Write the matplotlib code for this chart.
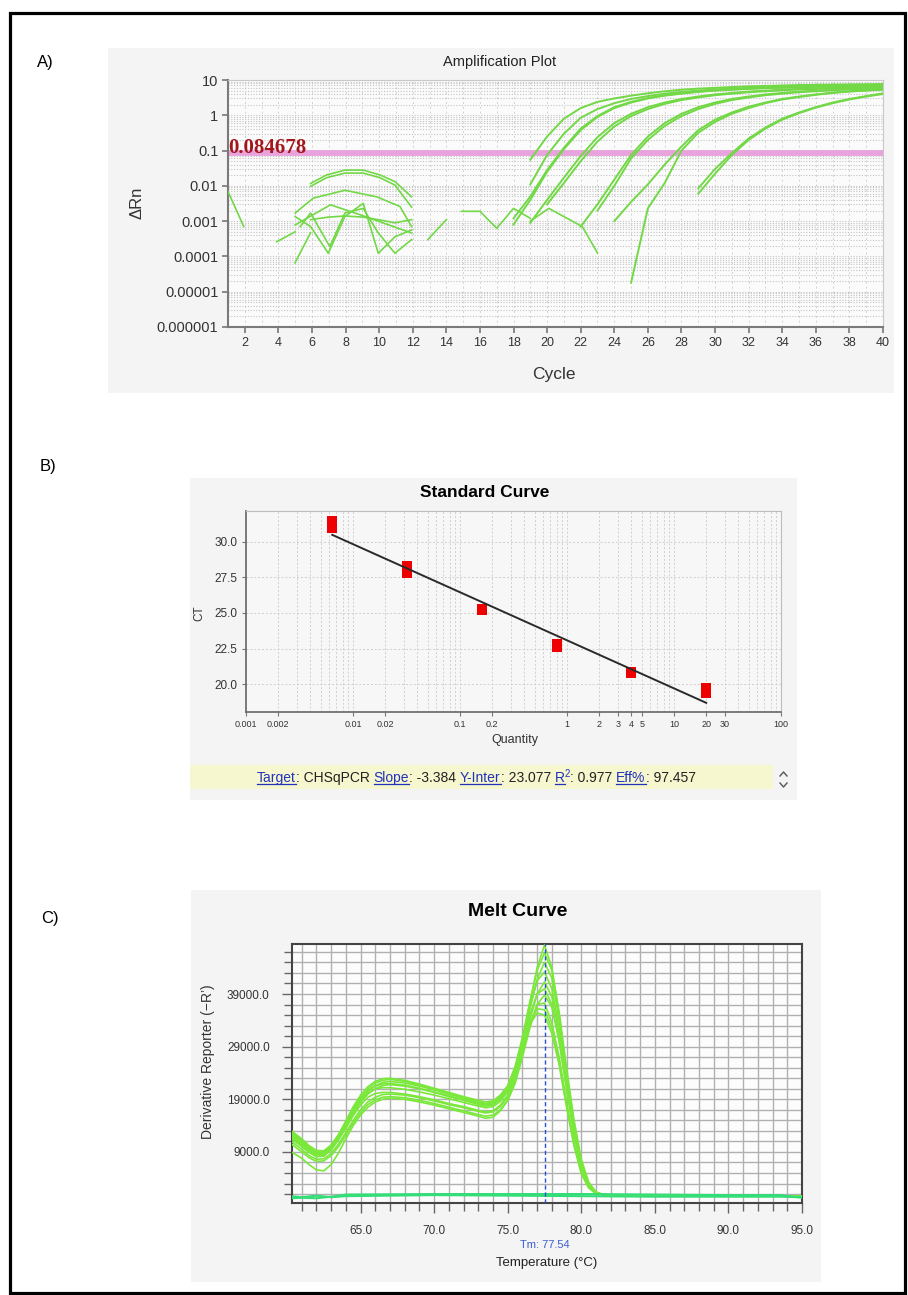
import numpy as np
import matplotlib
matplotlib.use("Agg")
import matplotlib.pyplot as plt
from matplotlib.patches import Rectangle
from matplotlib.lines import Line2D
from matplotlib.transforms import IdentityTransform
from matplotlib.ticker import FixedLocator, NullFormatter, MultipleLocator, LogLocator
from matplotlib import font_manager

# ---------------- A) amplification plot ----------------
threshold = 0.084678
amp_cycle_ticks = list(range(2, 41, 2))
amp_ytick_vals = [1e-6, 1e-5, 1e-4, 1e-3, 1e-2, 1e-1, 1, 10]
amp_ytick_labels = ["0.000001", "0.00001", "0.0001", "0.001", "0.01", "0.1", "1", "10"]

# amplified wells: first plotted cycle, then one value per cycle up to 40
amp_1a = [0.055, 0.25, 0.8, 1.6, 2.4, 3.0, 3.6, 4.2, 4.8, 5.3, 5.7, 6.0, 6.3, 6.6, 6.8, 7.0, 7.2, 7.3, 7.4, 7.5, 7.6, 7.7]
amp_1b = [0.011, 0.075, 0.3, 0.85, 1.5, 2.2, 2.9, 3.5, 4.1, 4.6, 5.0, 5.4, 5.7, 6.0, 6.2, 6.4, 6.6, 6.8, 6.9, 7.0, 7.1, 7.2]
amp_2a = [0.0008, 0.004, 0.025, 0.11, 0.38, 0.9, 1.6, 2.3, 3.0, 3.6, 4.1, 4.6, 5.0, 5.3, 5.6, 5.9, 6.1, 6.3, 6.5, 6.6, 6.7, 6.8, 6.9]
amp_2b = [0.0012, 0.005, 0.028, 0.12, 0.42, 0.95, 1.7, 2.4, 3.1, 3.7, 4.2, 4.7, 5.1, 5.4, 5.7, 5.9, 6.1, 6.3, 6.4, 6.5, 6.6, 6.7, 6.8]
amp_3a = [0.0009, 0.004, 0.017, 0.07, 0.24, 0.6, 1.1, 1.7, 2.3, 2.9, 3.4, 3.9, 4.3, 4.7, 5.0, 5.3, 5.6, 5.8, 6.0, 6.2, 6.3, 6.4]
amp_3b = [0.003, 0.012, 0.05, 0.18, 0.48, 0.95, 1.5, 2.1, 2.7, 3.2, 3.7, 4.1, 4.5, 4.8, 5.1, 5.4, 5.6, 5.8, 6.0, 6.1, 6.2]
amp_4a = [0.0007, 0.003, 0.015, 0.075, 0.25, 0.6, 1.1, 1.7, 2.3, 2.9, 3.4, 3.9, 4.3, 4.7, 5.0, 5.3, 5.6, 5.8, 6.0]
amp_4b = [0.002, 0.01, 0.06, 0.2, 0.5, 0.95, 1.5, 2.1, 2.7, 3.2, 3.7, 4.1, 4.5, 4.8, 5.1, 5.4, 5.6, 5.8]
amp_5a = [1.8e-5, 0.0023, 0.012, 0.1, 0.32, 0.65, 1.1, 1.6, 2.2, 2.8, 3.3, 3.8, 4.3, 4.7, 5.0, 5.3]
amp_5b = [0.001, 0.0035, 0.011, 0.04, 0.13, 0.38, 0.75, 1.2, 1.75, 2.3, 2.9, 3.4, 3.9, 4.4, 4.8, 5.1, 5.4]
amp_6a = [0.0085, 0.03, 0.085, 0.22, 0.45, 0.8, 1.2, 1.7, 2.3, 2.9, 3.5, 4.2]
amp_6b = [0.006, 0.022, 0.075, 0.2, 0.42, 0.75, 1.15, 1.65, 2.2, 2.8, 3.4, 4.0]

# baseline noise pieces (only the positive parts show on a log axis)
nz1_x, nz1_y = [1.0, 1.94], [0.0069, 0.0007]
nz2_x, nz2_y = [3.9, 5.0], [0.00026, 0.0005]
nz3_x, nz3_y = [4.99, 5.92], [6.6e-5, 0.00047]
arc1_x = [5.92, 6.87, 7.96, 9.05, 10.05, 10.94, 11.93]
arc1_y = [0.0117, 0.0204, 0.028, 0.028, 0.0204, 0.0132, 0.0049]
arc2_y = [0.0097, 0.017, 0.023, 0.023, 0.017, 0.0105, 0.0025]
arc3_x = [5.0, 6.08, 7.96, 9.85, 11.24, 11.93]
arc3_y = [0.0017, 0.0045, 0.0075, 0.0049, 0.0026, 0.0007]
arc4_x, arc4_y = [5.0, 7.1, 8.9, 11.93], [0.00078, 0.0029, 0.0015, 0.00046]
zig1_x = [5.0, 5.92, 6.97, 7.96, 9.05, 9.95, 10.94, 11.93]
zig1_y = [0.00135, 0.0007, 0.000123, 0.00135, 0.0032, 0.000123, 0.00036, 0.00056]
zig2_x = [5.3, 5.92, 7.06, 7.96, 9.05, 9.95, 10.94, 11.93]
zig2_y = [0.0007, 0.0017, 0.00019, 0.0017, 0.0023, 0.00046, 0.000123, 0.0003]
flat_x = [5.92, 6.97, 7.96, 9.05, 9.95, 10.94, 11.93]
flat_y = [0.0011, 0.0013, 0.0014, 0.0013, 0.0011, 0.0009, 0.0011]
nz4_x, nz4_y = [12.9, 14.0], [0.0003, 0.0011]
nz5_x, nz5_y = [14.9, 16.0, 17.0, 18.0, 19.0], [0.0019, 0.0019, 0.00063, 0.0023, 0.0012]
nz6_x, nz6_y = [19.0, 20.1, 22.1, 23.0], [0.001, 0.0023, 0.0007, 0.000125]

# ---------------- B) standard curve ----------------
sc_qty = [0.0064, 0.0064, 0.032, 0.032, 0.16, 0.16, 0.8, 0.8, 4, 4, 20, 20]
sc_ct = [31.0, 31.5, 27.8, 28.3, 25.2, 25.3, 22.6, 22.85, 20.75, 20.85, 19.35, 19.75]
sc_slope = -3.384
sc_intercept = 23.077
sc_r2 = 0.977
sc_eff = 97.457
sc_xticks = [0.001, 0.002, 0.01, 0.02, 0.1, 0.2, 1, 2, 3, 4, 5, 10, 20, 30, 100]
sc_xlabels = ["0.001", "0.002", "0.01", "0.02", "0.1", "0.2", "1", "2", "3", "4", "5", "10", "20", "30", "100"]
sc_yticks = [20.0, 22.5, 25.0, 27.5, 30.0]

# ---------------- C) melt curve ----------------
melt_temp = [60.3, 61.0, 61.5, 62.0, 62.5, 63.0, 63.5, 64.0, 64.5, 65.0, 65.5, 66.0, 66.5, 67.0,
             68.0, 69.0, 70.0, 71.0, 72.0, 73.0, 73.5, 74.0, 74.5, 75.0, 75.5, 76.0, 76.5, 77.0,
             77.5, 78.0, 78.5, 79.0, 79.5, 80.0, 80.5, 81.0, 81.5, 82.0, 83.0, 85.0, 90.0, 95.0]
# derivative reporter, thousands
melt_1 = [12.0, 10.5, 9.3, 8.5, 8.6, 9.8, 11.8, 14.2, 16.8, 19.0, 20.6, 21.6, 22.2, 22.4, 22.1, 21.5, 20.8, 20.0, 19.2, 18.4, 18.1, 18.3, 19.3, 21.0, 24.5, 30.0, 37.0, 44.0, 48.3, 44.0, 35.0, 24.0, 14.5, 7.0, 3.0, 1.3, 0.9, 0.8, 0.7, 0.6, 0.6, 0.6]
melt_2 = [12.8, 11.2, 9.9, 9.0, 9.0, 10.2, 12.3, 14.9, 17.6, 19.8, 21.4, 22.4, 22.9, 23.0, 22.6, 21.9, 21.1, 20.3, 19.5, 18.8, 18.5, 18.7, 19.8, 21.6, 25.2, 30.8, 37.5, 43.5, 46.8, 43.5, 35.5, 25.0, 15.2, 7.6, 3.3, 1.4, 0.9, 0.8, 0.7, 0.7, 0.6, 0.6]
melt_3 = [11.5, 10.0, 8.9, 8.1, 8.2, 9.4, 11.4, 13.8, 16.3, 18.4, 20.0, 21.0, 21.6, 21.8, 21.5, 21.0, 20.3, 19.5, 18.8, 18.0, 17.7, 17.9, 19.0, 20.8, 24.3, 29.5, 36.0, 41.8, 45.0, 42.0, 34.0, 23.5, 14.0, 6.8, 2.9, 1.3, 0.9, 0.8, 0.7, 0.6, 0.6, 0.6]
melt_4 = [12.5, 11.0, 9.7, 8.8, 8.9, 10.1, 12.1, 14.6, 17.2, 19.4, 21.0, 22.1, 22.6, 22.8, 22.4, 21.7, 20.9, 20.1, 19.3, 18.5, 18.2, 18.5, 19.6, 21.5, 25.0, 30.2, 36.5, 41.5, 43.2, 40.0, 32.5, 22.5, 13.5, 6.5, 2.8, 1.2, 0.9, 0.8, 0.7, 0.6, 0.6, 0.6]
melt_5 = [11.0, 9.5, 8.3, 7.6, 7.7, 8.7, 10.5, 12.7, 15.0, 17.0, 18.5, 19.4, 19.9, 20.0, 19.8, 19.3, 18.7, 18.0, 17.4, 16.7, 16.4, 16.6, 17.6, 19.4, 22.8, 28.0, 34.0, 39.0, 41.3, 38.5, 31.5, 22.0, 13.2, 6.3, 2.7, 1.2, 0.9, 0.8, 0.7, 0.6, 0.6, 0.6]
melt_6 = [10.5, 9.0, 7.9, 7.2, 7.3, 8.3, 10.0, 12.2, 14.5, 16.5, 18.0, 18.9, 19.4, 19.5, 19.3, 18.8, 18.2, 17.5, 16.8, 16.1, 15.8, 16.0, 17.0, 18.8, 22.0, 27.0, 32.5, 37.0, 38.8, 36.5, 30.0, 21.0, 12.5, 6.0, 2.6, 1.2, 0.9, 0.8, 0.7, 0.6, 0.6, 0.6]
melt_7 = [9.0, 7.8, 6.6, 5.6, 5.4, 6.6, 8.8, 11.5, 14.0, 16.0, 17.5, 18.5, 19.0, 19.2, 19.0, 18.5, 17.9, 17.2, 16.5, 15.8, 15.4, 15.6, 16.8, 18.8, 22.3, 27.5, 33.0, 37.0, 37.3, 33.5, 27.0, 18.5, 10.8, 5.2, 2.3, 1.1, 0.9, 0.8, 0.7, 0.6, 0.6, 0.6]
melt_8 = [11.8, 10.2, 9.0, 8.2, 8.3, 9.4, 11.3, 13.5, 15.9, 17.9, 19.4, 20.1, 20.3, 20.3, 20.0, 19.5, 18.9, 18.2, 17.6, 16.9, 16.6, 16.8, 17.9, 19.8, 23.2, 28.3, 33.5, 36.2, 36.0, 32.5, 26.0, 18.0, 10.5, 5.0, 2.2, 1.1, 0.9, 0.8, 0.7, 0.6, 0.6, 0.6]
melt_9 = [12.2, 10.7, 9.5, 8.7, 8.7, 9.9, 11.9, 14.3, 16.8, 18.8, 20.2, 21.0, 21.2, 21.2, 20.9, 20.4, 19.8, 19.1, 18.4, 17.7, 17.4, 17.6, 18.6, 20.4, 23.6, 28.5, 33.2, 35.4, 35.0, 31.5, 25.5, 17.5, 10.2, 4.9, 2.2, 1.1, 0.9, 0.8, 0.7, 0.6, 0.6, 0.6]
melt_10 = [13.0, 11.5, 10.2, 9.3, 9.2, 10.3, 12.2, 14.6, 17.0, 19.0, 20.6, 21.5, 21.9, 22.0, 21.7, 21.1, 20.4, 19.7, 18.9, 18.2, 17.9, 18.1, 19.1, 21.0, 24.3, 29.4, 35.0, 39.0, 40.0, 37.0, 30.0, 21.0, 12.5, 6.0, 2.6, 1.2, 0.9, 0.8, 0.7, 0.6, 0.6, 0.6]
ntc_temp = [60.3, 61.0, 62.0, 63.0, 64.0, 70.0, 75.0, 80.0, 85.0, 90.0, 93.5, 95.0]
ntc_1 = [0.2, 0.3, 0.2, 0.5, 0.9, 1.0, 1.0, 1.0, 0.9, 0.8, 0.8, 0.3]
ntc_2 = [0.6, 0.4, 0.7, 0.4, 0.6, 0.8, 0.7, 0.6, 0.5, 0.5, 0.5, 0.4]
melt_tm = 77.54
melt_xticks = [65, 70, 75, 80, 85, 90, 95]
melt_yticks = [9000, 19000, 29000, 39000]

# ---------------- figure ----------------
names = {f.name for f in font_manager.fontManager.ttflist}
NARROW = "Liberation Sans Narrow" if "Liberation Sans Narrow" in names else "Liberation Sans"
plt.rcParams["font.family"] = ["Liberation Sans", "DejaVu Sans"]

W, H = 908, 1295
fig = plt.figure(figsize=(W / 100, H / 100), dpi=100)
fig.patch.set_facecolor("white")


def fx(x):
    return x / W


def fy(y):
    return 1 - y / H


def box(l, t, r, b, **kw):
    fig.patches.append(Rectangle((fx(l), fy(b)), (r - l) / W, (b - t) / H,
                                 transform=fig.transFigure, **kw))


def axes_px(l, t, r, b):
    return fig.add_axes([fx(l), fy(b), (r - l) / W, (b - t) / H])


box(10, 13, 905, 1293, fill=False, edgecolor="black", linewidth=2.3, zorder=-5)
box(108, 48, 894, 393, facecolor="#f4f4f4", edgecolor="none", zorder=-5)
box(190, 478, 797, 800, facecolor="#f4f4f4", edgecolor="none", zorder=-5)
box(191, 890, 821, 1282, facecolor="#f4f4f4", edgecolor="none", zorder=-5)

fig.text(fx(45), fy(63), "A)", fontsize=12, ha="center", va="center")
fig.text(fx(48), fy(466), "B)", fontsize=12, ha="center", va="center")
fig.text(fx(50), fy(918), "C)", fontsize=12, ha="center", va="center")

# ---- A ----
AMP_GREEN = "#72d846"
axA = axes_px(228, 80, 883, 327)
axA.set_facecolor("#fbfbfb")
axA.set_yscale("log")
axA.set_xlim(1, 40)
axA.set_ylim(1e-6, 10)
axA.set_xticks(amp_cycle_ticks)
axA.set_xticklabels([str(c) for c in amp_cycle_ticks], fontfamily=NARROW, fontsize=9)
axA.set_yticks(amp_ytick_vals)
axA.set_yticklabels(amp_ytick_labels, fontsize=10.5)
axA.yaxis.set_minor_locator(LogLocator(base=10, subs=range(2, 10), numticks=20))
axA.yaxis.set_minor_formatter(NullFormatter())
axA.xaxis.set_minor_locator(MultipleLocator(1))
axA.tick_params(which="major", direction="out", length=4, width=1.2, color="#777777", labelcolor="#333333", pad=3)
axA.tick_params(which="minor", length=0)
axA.grid(which="both", axis="y", color="#c4c4c4", linestyle=(0, (1, 1.5)), linewidth=0.8)
axA.grid(which="both", axis="x", color="#d2d2d2", linestyle=(0, (2, 3)), linewidth=0.7)
for s in ["left", "bottom"]:
    axA.spines[s].set_color("#7a7a7a")
    axA.spines[s].set_linewidth(1.5)
for s in ["top", "right"]:
    axA.spines[s].set_color("#c8c8c8")
    axA.spines[s].set_linewidth(0.8)

axA.axhline(threshold, color="#e8a2dc", linewidth=4.2, zorder=2)

amp_curves = [(19, amp_1a), (19, amp_1b), (18, amp_2a), (18, amp_2b), (19, amp_3a), (20, amp_3b),
              (22, amp_4a), (23, amp_4b), (25, amp_5a), (24, amp_5b), (29, amp_6a), (29, amp_6b)]
for start, vals in amp_curves:
    cyc = np.arange(start, start + len(vals))
    axA.plot(cyc, vals, color=AMP_GREEN, linewidth=1.4, zorder=3)

noise = [(nz1_x, nz1_y), (nz2_x, nz2_y), (nz3_x, nz3_y), (arc1_x, arc1_y), (arc1_x, arc2_y),
         (arc3_x, arc3_y), (arc4_x, arc4_y), (zig1_x, zig1_y), (zig2_x, zig2_y), (flat_x, flat_y),
         (nz4_x, nz4_y), (nz5_x, nz5_y), (nz6_x, nz6_y)]
for xs, ys in noise:
    axA.plot(xs, ys, color=AMP_GREEN, linewidth=1.2, zorder=3)

fig.text(fx(228), fy(153), "0.084678", fontsize=15, fontweight="bold", color="#a3161c",
         family=["Liberation Serif", "DejaVu Serif"], ha="left", va="baseline")
fig.text(fx(500), fy(62), "Amplification Plot", fontsize=10.5, color="#222222", ha="center", va="center")
fig.text(fx(554), fy(375), "Cycle", fontsize=12.5, fontfamily=NARROW, color="#333333", ha="center", va="center")
fig.text(fx(137), fy(203), "\u0394Rn", fontsize=12, rotation=90, color="#333333", ha="center", va="center")

# ---- B ----
axB = axes_px(246, 511, 781, 712)
axB.set_facecolor("#f7f7f7")
axB.set_xscale("log")
axB.set_xlim(0.001, 100)
axB.set_ylim(18.03, 32.18)
axB.xaxis.set_major_locator(FixedLocator(sc_xticks))
axB.set_xticklabels(sc_xlabels, fontsize=6.5)
axB.xaxis.set_minor_locator(LogLocator(base=10, subs=range(1, 10), numticks=20))
axB.xaxis.set_minor_formatter(NullFormatter())
axB.set_yticks(sc_yticks)
axB.set_yticklabels(["%.1f" % v for v in sc_yticks], fontsize=8.5)
axB.tick_params(which="major", direction="out", length=3, color="#777777", labelcolor="#333333", pad=3)
axB.tick_params(which="minor", length=0)
axB.grid(which="both", axis="x", color="#cfcfcf", linestyle=(0, (2, 2)), linewidth=0.7)
axB.grid(which="major", axis="y", color="#cfcfcf", linestyle=(0, (2, 2)), linewidth=0.7)
for s in ["left", "bottom"]:
    axB.spines[s].set_color("#666666")
    axB.spines[s].set_linewidth(1.2)
for s in ["top", "right"]:
    axB.spines[s].set_color("#bdbdbd")
    axB.spines[s].set_linewidth(0.8)

axB.plot(sc_qty, sc_ct, "s", color="#ee0000", markersize=7.5, markeredgewidth=0, zorder=3)
fit_x = np.array([min(sc_qty), max(sc_qty)])
axB.plot(fit_x, sc_slope * np.log10(fit_x) + sc_intercept, color="#2a2a2a", linewidth=1.4, zorder=4)

fig.text(fx(485), fy(493), "Standard Curve", fontsize=12.5, fontweight="bold", ha="center", va="center")
fig.text(fx(515), fy(740), "Quantity", fontsize=9, color="#333333", ha="center", va="center")
fig.text(fx(199), fy(613), "CT", fontsize=8.5, rotation=90, color="#333333", ha="center", va="center")

box(190, 765, 773, 789, facecolor="#f6f6cf", edgecolor="none", zorder=-4)
renderer = fig.canvas.get_renderer()
BLUE = "#2233bb"
pieces = [("Target", True), (": CHSqPCR ", False), ("Slope", True), (": %.3f " % sc_slope, False),
          ("Y-Inter", True), (": %.3f " % sc_intercept, False), ("R", True), ("2", "sup"),
          (": %.3f " % sc_r2, False), ("Eff%", True), (": %.3f" % sc_eff, False)]
xp = 257.0
base = 782.0
for txt, kind in pieces:
    if kind == "sup":
        t = fig.text(fx(xp), fy(base - 5), txt, fontsize=7, color=BLUE, ha="left", va="baseline")
    else:
        t = fig.text(fx(xp), fy(base), txt, fontsize=10, color=BLUE if kind else "#222222",
                     ha="left", va="baseline")
    bb = t.get_window_extent(renderer=renderer)
    if kind is True:
        fig.add_artist(Line2D([bb.x0, bb.x1], [H - base - 2, H - base - 2], color=BLUE,
                              linewidth=0.9, transform=IdentityTransform()))
    xp += bb.width

for y0, y1 in [(776, 772), (783, 787)]:
    fig.add_artist(Line2D([fx(780), fx(783.5), fx(787)], [fy(y0), fy(y1), fy(y0)], color="#555555",
                          linewidth=1.0, transform=fig.transFigure))

# ---- C ----
axC = axes_px(292, 944, 802, 1203)
axC.set_facecolor("#fcfcfc")
axC.set_xlim(60.34, 95.0)
axC.set_ylim(-700, 48500)
axC.set_xticks(melt_xticks)
axC.set_xticklabels(["%.1f" % v for v in melt_xticks], fontfamily=NARROW, fontsize=8.5)
axC.xaxis.set_minor_locator(MultipleLocator(1))
axC.set_yticks(melt_yticks)
axC.set_yticklabels(["%.1f" % v for v in melt_yticks], fontfamily=NARROW, fontsize=8.5)
axC.yaxis.set_minor_locator(FixedLocator(list(range(1000, 48000, 2000))))
axC.tick_params(which="both", direction="out", color="#666666", labelcolor="#333333", width=1)
axC.tick_params(which="major", length=7, pad=9)
axC.tick_params(which="minor", length=6)
axC.grid(which="both", color="#b0b0b0", linewidth=1.0)
for s in axC.spines.values():
    s.set_color("#444444")
    s.set_linewidth(1.5)

MELT_GREEN = "#7ae83a"
for vals in [melt_1, melt_2, melt_3, melt_4, melt_5, melt_6, melt_7, melt_8, melt_9, melt_10]:
    axC.plot(melt_temp, np.array(vals) * 1000, color=MELT_GREEN, linewidth=1.2, zorder=3)
for vals in [ntc_1, ntc_2]:
    axC.plot(ntc_temp, np.array(vals) * 1000, color="#33dd77", linewidth=1.5, zorder=3)
axC.axvline(melt_tm, color="#2a4fd0", linestyle=(0, (3, 2)), linewidth=1.0, zorder=4)

fig.text(fx(518), fy(912), "Melt Curve", fontsize=14, fontweight="bold", ha="center", va="center")
fig.text(fx(545), fy(1245), "Tm: %.2f" % melt_tm, fontsize=8, fontfamily=NARROW, color="#3a5fd0",
         ha="center", va="center")
fig.text(fx(547), fy(1263), "Temperature (\u00b0C)", fontsize=9.5, color="#222222", ha="center", va="center")
fig.text(fx(208), fy(1062), "Derivative Reporter (\u2212R\u2019)", fontsize=10, rotation=90,
         color="#333333", ha="center", va="center")

fig.savefig("out.png", dpi=100)
